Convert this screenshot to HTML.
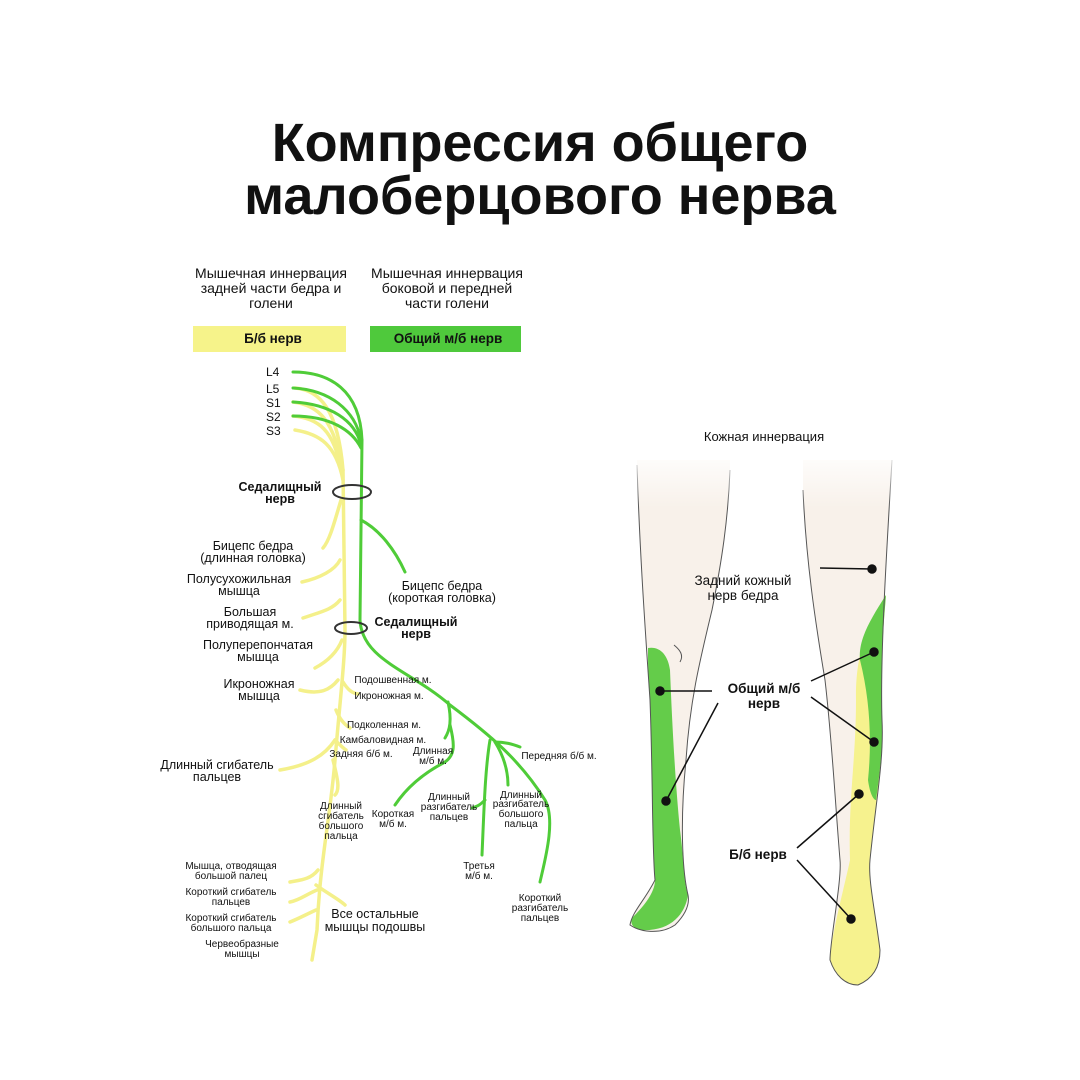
<!DOCTYPE html>
<html><head><meta charset="utf-8"><style>
body{margin:0;background:#fff}
svg{display:block}
text{font-family:"Liberation Sans",sans-serif;fill:#111}
</style></head><body>
<svg width="1080" height="1080" viewBox="0 0 1080 1080" xmlns="http://www.w3.org/2000/svg">
<defs>
<linearGradient id="fade" x1="0" y1="0" x2="0" y2="1">
<stop offset="0" stop-color="#fff" stop-opacity="1"/><stop offset="1" stop-color="#fff" stop-opacity="0"/>
</linearGradient>
</defs>
<rect width="1080" height="1080" fill="#fff"/>
<text x="540" y="161" font-size="54" font-weight="bold" text-anchor="middle">Компрессия общего</text>
<text x="540" y="214" font-size="54" font-weight="bold" text-anchor="middle">малоберцового нерва</text>

<g font-size="14" text-anchor="middle">
<text x="271" y="278">Мышечная иннервация</text>
<text x="271" y="293">задней части бедра и</text>
<text x="271" y="308">голени</text>
<text x="447" y="278">Мышечная иннервация</text>
<text x="447" y="293">боковой и передней</text>
<text x="447" y="308">части голени</text>
</g>
<rect x="193" y="326" width="153" height="26" fill="#f6f38a"/>
<rect x="370" y="326" width="151" height="26" fill="#4fc93c"/>
<text x="273" y="343" font-size="13.5" font-weight="bold" text-anchor="middle">Б/б нерв</text>
<text x="448" y="343" font-size="13.5" font-weight="bold" text-anchor="middle">Общий м/б нерв</text>

<g font-size="12">
<text x="266" y="376">L4</text><text x="266" y="393">L5</text><text x="266" y="407">S1</text><text x="266" y="421">S2</text><text x="266" y="435">S3</text>
</g>
<!-- yellow nerves -->
<g stroke="#f4f08a" fill="none" stroke-width="3.5" stroke-linecap="round">
<path d="M295 388 C320 390 338 410 343 470"/>
<path d="M293 402 C318 405 335 420 342 470"/>
<path d="M293 416 C318 418 334 430 341 470"/>
<path d="M295 430 C320 434 336 445 343 480"/>
<path d="M343 470 L345 630 C345 660 340 700 335 760 C330 820 320 860 317 930 L312 960"/>
<path d="M341 500 C335 520 330 540 323 548"/>
<path d="M340 560 C335 570 320 578 302 582"/>
<path d="M340 600 C332 610 320 612 303 618"/>
<path d="M342 640 C338 650 330 660 315 668"/>
<path d="M338 680 C330 690 320 695 300 690"/>
<path d="M343 682 C348 690 352 693 358 694"/>
<path d="M336 710 C340 720 345 725 350 728"/>
<path d="M335 740 C340 745 343 748 346 750"/>
<path d="M335 740 C325 755 310 765 280 770"/>
<path d="M333 760 C338 780 340 790 335 795"/>
<path d="M318 870 C310 880 300 880 290 882"/>
<path d="M317 890 C305 895 300 900 290 902"/>
<path d="M316 910 C305 915 300 918 290 922"/>
<path d="M316 885 C330 895 340 900 345 905"/>
</g>
<!-- green nerves -->
<g stroke="#4fcc38" fill="none" stroke-width="3" stroke-linecap="round">
<path d="M293 372 C330 372 360 390 362 440"/>
<path d="M293 388 C330 390 355 410 361 440"/>
<path d="M293 402 C330 404 355 420 361 445"/>
<path d="M293 416 C330 416 352 430 361 448"/>
<path d="M362 440 L360 620 C362 660 410 670 450 705 C490 735 520 760 545 800 C556 820 545 860 540 882"/>
<path d="M361 520 C380 530 395 550 405 572"/>
<path d="M448 702 C452 720 450 730 445 738"/>
<path d="M450 725 C455 745 455 755 445 762 C420 775 405 790 395 805"/>
<path d="M490 740 C485 770 484 810 482 855"/>
<path d="M495 742 C503 755 508 770 508 785"/>
<path d="M495 742 C505 742 512 744 520 747"/>
<path d="M485 800 C480 805 478 806 472 808"/>
</g>
<g fill="none" stroke="#333" stroke-width="2">
<ellipse cx="352" cy="492" rx="19" ry="7"/>
<ellipse cx="351" cy="628" rx="16" ry="6"/>
</g>
<g font-size="12.5" text-anchor="middle">
<text x="280" y="491" font-weight="bold">Седалищный</text>
<text x="280" y="503" font-weight="bold">нерв</text>
<text x="253" y="550">Бицепс бедра</text>
<text x="253" y="562">(длинная головка)</text>
<text x="239" y="583">Полусухожильная</text>
<text x="239" y="595">мышца</text>
<text x="250" y="616">Большая</text>
<text x="250" y="628">приводящая м.</text>
<text x="442" y="590">Бицепс бедра</text>
<text x="442" y="602">(короткая головка)</text>
<text x="416" y="626" font-weight="bold">Седалищный</text>
<text x="416" y="638" font-weight="bold">нерв</text>
<text x="258" y="649">Полуперепончатая</text>
<text x="258" y="661">мышца</text>
<text x="259" y="688">Икроножная</text>
<text x="259" y="700">мышца</text>
<text x="217" y="769">Длинный сгибатель</text>
<text x="217" y="781">пальцев</text>
<text x="375" y="918">Все остальные</text>
<text x="375" y="931">мышцы подошвы</text>
</g>
<g font-size="10" text-anchor="middle">
<text x="393" y="683">Подошвенная м.</text>
<text x="389" y="699">Икроножная м.</text>
<text x="384" y="728">Подколенная м.</text>
<text x="383" y="743">Камбаловидная м.</text>
<text x="361" y="757">Задняя б/б м.</text>
<text x="433" y="754">Длинная</text><text x="433" y="764">м/б м.</text>
<text x="559" y="759">Передняя б/б м.</text>
<text x="341" y="809">Длинный</text><text x="341" y="819">сгибатель</text><text x="341" y="829">большого</text><text x="341" y="839">пальца</text>
<text x="393" y="817">Короткая</text><text x="393" y="827">м/б м.</text>
<text x="449" y="800">Длинный</text><text x="449" y="810">разгибатель</text><text x="449" y="820">пальцев</text>
<text x="521" y="798">Длинный</text><text x="521" y="807">разгибатель</text><text x="521" y="817">большого</text><text x="521" y="827">пальца</text>
<text x="479" y="869">Третья</text><text x="479" y="879">м/б м.</text>
<text x="540" y="901">Короткий</text><text x="540" y="911">разгибатель</text><text x="540" y="921">пальцев</text>
<text x="231" y="869">Мышца, отводящая</text><text x="231" y="879">большой палец</text>
<text x="231" y="895">Короткий сгибатель</text><text x="231" y="905">пальцев</text>
<text x="231" y="921">Короткий сгибатель</text><text x="231" y="931">большого пальца</text>
<text x="242" y="947">Червеобразные</text><text x="242" y="957">мышцы</text>
</g>

<!-- left leg -->
<path d="M637 465 C640 560 646 640 650 700 C653 780 652 850 655 880 C645 900 632 912 630 925 C640 932 660 935 675 925 C685 915 690 905 688 895 C682 870 680 820 686 760 C690 700 700 660 712 610 C722 560 728 520 730 470 L730 460 L637 460 Z" fill="#f8f1ea"/>
<path d="M648 648 C660 646 668 655 670 670 C672 720 675 780 680 830 C684 860 684 885 688 895 C685 915 670 932 640 930 C632 928 630 922 632 918 C645 905 655 892 655 880 C652 850 653 780 650 700 C648 680 648 660 648 648 Z" fill="#64cc4a"/>
<path d="M637 465 C640 560 646 640 650 700 C653 780 652 850 655 880 C645 900 632 912 630 925 C640 932 660 935 675 925 C685 915 690 905 688 895 C682 870 680 820 686 760 C690 700 700 660 712 610 C722 560 728 520 730 470" fill="none" stroke="#555" stroke-width="1"/>
<path d="M674 645 C680 650 684 655 680 662" fill="none" stroke="#555" stroke-width="1"/>
<!-- right leg -->
<path d="M803 460 L803 490 C806 560 815 620 825 680 C832 740 835 800 840 860 C842 880 830 940 830 960 C835 975 845 985 858 985 C870 980 880 970 880 950 C875 910 868 880 870 860 C876 800 884 760 882 720 C880 660 886 560 892 460 Z" fill="#f8f1ea"/>
<path d="M886 595 C870 620 855 650 856 700 C856 760 848 800 850 860 C846 880 830 940 830 960 C835 975 845 985 858 985 C870 980 880 970 880 950 C875 910 868 880 870 860 C876 800 884 760 882 720 C880 660 884 620 886 595 Z" fill="#f6f28e"/>
<path d="M886 595 C870 620 858 640 860 660 C870 700 872 740 868 780 C870 795 874 800 876 800 C880 770 884 740 882 720 C880 660 884 620 886 595 Z" fill="#64cc4a"/>
<path d="M803 490 C806 560 815 620 825 680 C832 740 835 800 840 860 C842 880 830 940 830 960 C835 975 845 985 858 985 C870 980 880 970 880 950 C875 910 868 880 870 860 C876 800 884 760 882 720 C880 660 886 560 892 460" fill="none" stroke="#555" stroke-width="1"/>
<rect x="600" y="448" width="320" height="60" fill="url(#fade)"/>
<text x="764" y="441" font-size="13" text-anchor="middle">Кожная иннервация</text>

<g stroke="#111" stroke-width="1.5" fill="#111">
<line x1="820" y1="568" x2="872" y2="569"/><circle cx="872" cy="569" r="4"/>
<line x1="660" y1="691" x2="712" y2="691"/><circle cx="660" cy="691" r="4"/>
<line x1="718" y1="703" x2="666" y2="801"/><circle cx="666" cy="801" r="4"/>
<line x1="811" y1="681" x2="874" y2="652"/><circle cx="874" cy="652" r="4"/>
<line x1="811" y1="697" x2="874" y2="742"/><circle cx="874" cy="742" r="4"/>
<line x1="797" y1="848" x2="859" y2="794"/><circle cx="859" cy="794" r="4"/>
<line x1="797" y1="860" x2="851" y2="919"/><circle cx="851" cy="919" r="4"/>
</g>
<g text-anchor="middle">
<text x="743" y="585" font-size="13.5">Задний кожный</text>
<text x="743" y="600" font-size="13.5">нерв бедра</text>
<text x="764" y="693" font-size="13.5" font-weight="bold">Общий м/б</text>
<text x="764" y="708" font-size="13.5" font-weight="bold">нерв</text>
<text x="758" y="859" font-size="13.5" font-weight="bold">Б/б нерв</text>
</g>
</svg>
</body></html>
